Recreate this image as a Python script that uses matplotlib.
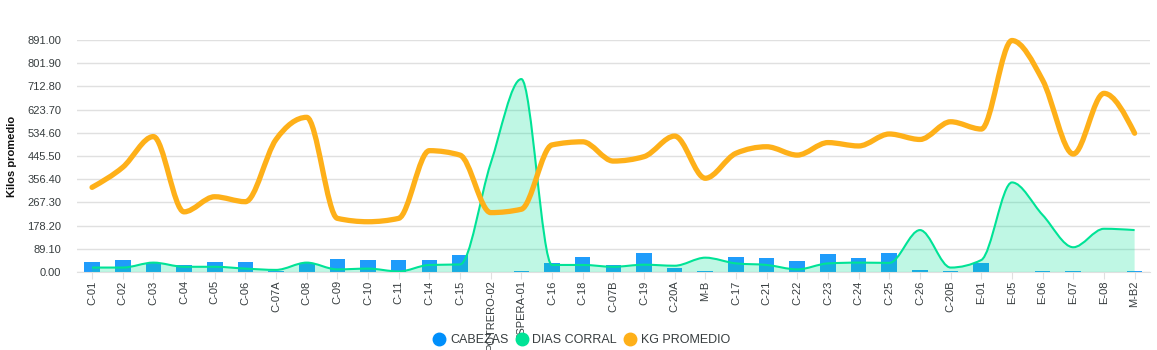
import numpy as np
import matplotlib
matplotlib.use("Agg")
import matplotlib.pyplot as plt
from matplotlib.path import Path
from matplotlib.patches import PathPatch
from matplotlib.lines import Line2D

plt.rcParams["font.family"] = ["Liberation Sans", "DejaVu Sans"]

# datos
corrales = ["C-01", "C-02", "C-03", "C-04", "C-05", "C-06", "C-07A", "C-08", "C-09", "C-10",
            "C-11", "C-14", "C-15", "POTRERO-02", "ESPERA-01", "C-16", "C-18", "C-07B", "C-19",
            "C-20A", "M-B", "C-17", "C-21", "C-22", "C-23", "C-24", "C-25", "C-26", "C-20B",
            "E-01", "E-05", "E-06", "E-07", "E-08", "M-B2"]
cabezas = [37, 47, 35, 26, 37, 37, 3, 33, 49, 46, 45, 45, 67, 1, 2, 33, 59, 26, 71, 14, 2,
           58, 52, 44, 68, 54, 73, 6, 3, 33, 1, 2, 4, 1, 3]
dias_corral = [17, 17, 36, 20, 20, 13, 8, 36, 10, 13, 2, 27, 29, 417, 741, 27, 27, 20, 28, 24,
               55, 33, 27, 10, 33, 36, 35, 161, 17, 46, 344, 219, 95, 166, 161]
kg_promedio = [325, 402, 520, 231, 289, 270, 509, 594, 206, 193, 206, 466, 449, 228, 241, 488,
               500, 426, 443, 522, 360, 456, 481, 449, 497, 484, 530, 509, 577, 549, 889, 737,
               453, 686, 533]
yticks = [0, 89.1, 178.2, 267.3, 356.4, 445.5, 534.6, 623.7, 712.8, 801.9, 891.0]

AZUL = "#008FFB"
VERDE = "#00E396"
NARANJA = "#FEB019"
GRIS = "#373d3f"


def pendientes(x, y):
    # tangentes de una curva monotona (tipo d3 monotoneX)
    x = np.asarray(x, float)
    y = np.asarray(y, float)
    h = np.diff(x)
    s = np.diff(y) / h
    t = np.zeros(len(y))
    for i in range(1, len(y) - 1):
        p = (s[i - 1] * h[i] + s[i] * h[i - 1]) / (h[i - 1] + h[i])
        t[i] = (np.sign(s[i - 1]) + np.sign(s[i])) * min(abs(s[i - 1]), abs(s[i]), 0.5 * abs(p))
    t[0] = (3 * s[0] - t[1]) / 2
    t[-1] = (3 * s[-1] - t[-2]) / 2
    return t


def curva(x, y, cerrar=False):
    t = pendientes(x, y)
    verts = [(x[0], y[0])]
    codes = [Path.MOVETO]
    for i in range(len(x) - 1):
        dx = (x[i + 1] - x[i]) / 3.0
        verts += [(x[i] + dx, y[i] + dx * t[i]), (x[i + 1] - dx, y[i + 1] - dx * t[i + 1]),
                  (x[i + 1], y[i + 1])]
        codes += [Path.CURVE4] * 3
    if cerrar:
        verts += [(x[-1], 0), (x[0], 0), (x[0], y[0])]
        codes += [Path.LINETO, Path.LINETO, Path.CLOSEPOLY]
    return Path(verts, codes)


x = np.arange(len(corrales))

fig = plt.figure(figsize=(11.57, 3.5), dpi=100)
ax = fig.add_axes([0.0663, 0.2229, 0.9276, 0.6628])

ax.bar(x, cabezas, width=0.51, color=AZUL, alpha=0.88, zorder=2)

ax.add_patch(PathPatch(curva(x, dias_corral, cerrar=True), facecolor=VERDE, alpha=0.25,
                       edgecolor="none", zorder=3))
ax.add_patch(PathPatch(curva(x, dias_corral), facecolor="none", edgecolor=VERDE, lw=1.5,
                       zorder=4))
ax.add_patch(PathPatch(curva(x, kg_promedio), facecolor="none", edgecolor=NARANJA, lw=3.8,
                       capstyle="round", joinstyle="round", zorder=5, clip_on=False))

ax.set_xlim(-0.5, len(corrales) - 0.5)
ax.set_ylim(0, 891)
ax.set_yticks(yticks)
ax.set_yticklabels([f"{v:.2f}" for v in yticks], fontsize=8, color=GRIS)
ax.set_xticks(x)
ax.set_xticklabels(corrales, rotation=90, fontsize=8, color=GRIS)
ax.tick_params(axis="y", length=0, pad=11)
ax.tick_params(axis="x", length=5, color="#e0e0e0", pad=1)

ax.grid(axis="y", color="#e0e0e0", lw=1)
ax.set_axisbelow(True)
for s in ["top", "right", "left"]:
    ax.spines[s].set_visible(False)
ax.spines["bottom"].set_color("#e0e0e0")

ax.set_ylabel("Kilos promedio", fontsize=8, fontweight="bold", color="#111111")
ax.yaxis.set_label_coords(-0.0560, 0.5)

handles = [Line2D([], [], ls="none", marker="o", ms=9, color=c) for c in (AZUL, VERDE, NARANJA)]
fig.legend(handles, ["CABEZAS", "DIAS CORRAL", "KG PROMEDIO"], loc="center",
           bbox_to_anchor=(0.502, 0.028), ncol=3, frameon=False, fontsize=9,
           handlelength=1.2, handletextpad=0.25, columnspacing=0.45, labelcolor=GRIS,
           borderpad=0)

fig.savefig("out.png", dpi=100)
